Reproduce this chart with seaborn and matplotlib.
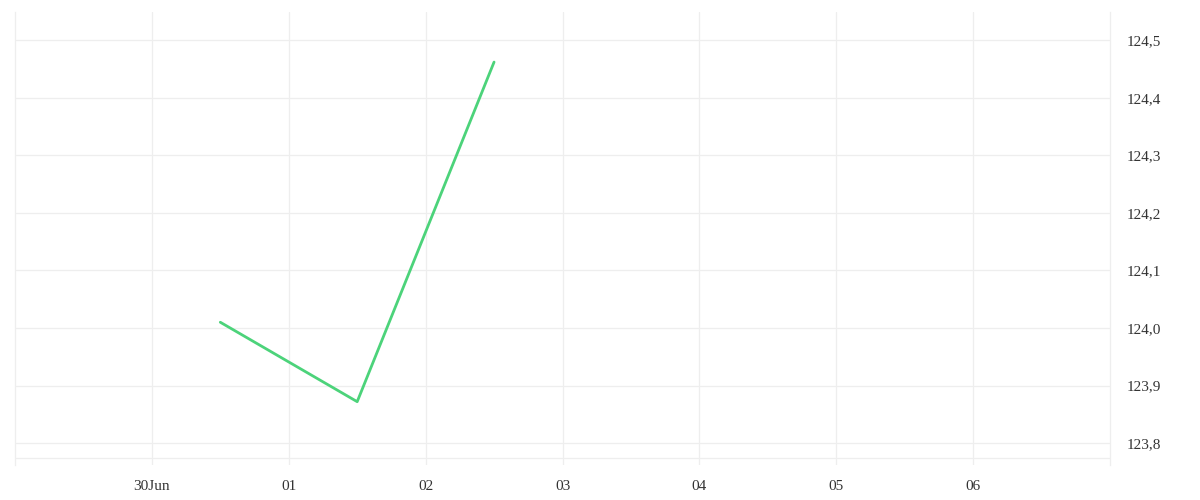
import matplotlib
matplotlib.use("Agg")
import matplotlib.pyplot as plt
import matplotlib.dates as mdates
import matplotlib.ticker as mticker
import seaborn as sns
import pandas as pd

# data
dates = ["2020-06-30 12:00", "2020-07-01 12:00", "2020-07-02 12:00"]
prices = [124.01, 123.872, 124.462]

tick_days = ["2020-06-30", "2020-07-01", "2020-07-02", "2020-07-03",
             "2020-07-04", "2020-07-05", "2020-07-06"]
tick_labels = ["30Jun", "01", "02", "03", "04", "05", "06"]
y_ticks = [123.8, 123.9, 124.0, 124.1, 124.2, 124.3, 124.4, 124.5]

df = pd.DataFrame({"date": pd.to_datetime(dates), "price": prices})

sns.set_style("white")
plt.rcParams["font.family"] = ["Liberation Serif", "DejaVu Serif"]

grid_col = "#eeeeee"
fig = plt.figure(figsize=(12, 5), dpi=100)
ax = fig.add_axes([0.0125, 0.07, 0.9125, 0.906])

sns.lineplot(data=df, x="date", y="price", ax=ax, color="#4cd37a", linewidth=2)

ax.set_xlim(pd.Timestamp("2020-06-29"), pd.Timestamp("2020-07-07"))
ax.set_ylim(123.762, 124.549)

ax.set_xticks(mdates.date2num(pd.to_datetime(tick_days)))
ax.set_xticklabels(tick_labels)
ax.set_yticks(y_ticks)
ax.yaxis.set_major_formatter(mticker.FuncFormatter(lambda v, p: f"{v:.1f}".replace(".", ",")))
ax.yaxis.tick_right()

ax.grid(True, color=grid_col, linewidth=0.9)
ax.axhline(123.774, color=grid_col, linewidth=0.9, zorder=0)
ax.tick_params(axis="both", length=0, labelsize=11, colors="#333333")
ax.tick_params(axis="x", pad=11)
ax.tick_params(axis="y", pad=12)

for s in ["top", "bottom"]:
    ax.spines[s].set_visible(False)
for s in ["left", "right"]:
    ax.spines[s].set_color(grid_col)
    ax.spines[s].set_linewidth(0.9)

ax.set_xlabel("")
ax.set_ylabel("")

fig.savefig("out.png", dpi=100)
